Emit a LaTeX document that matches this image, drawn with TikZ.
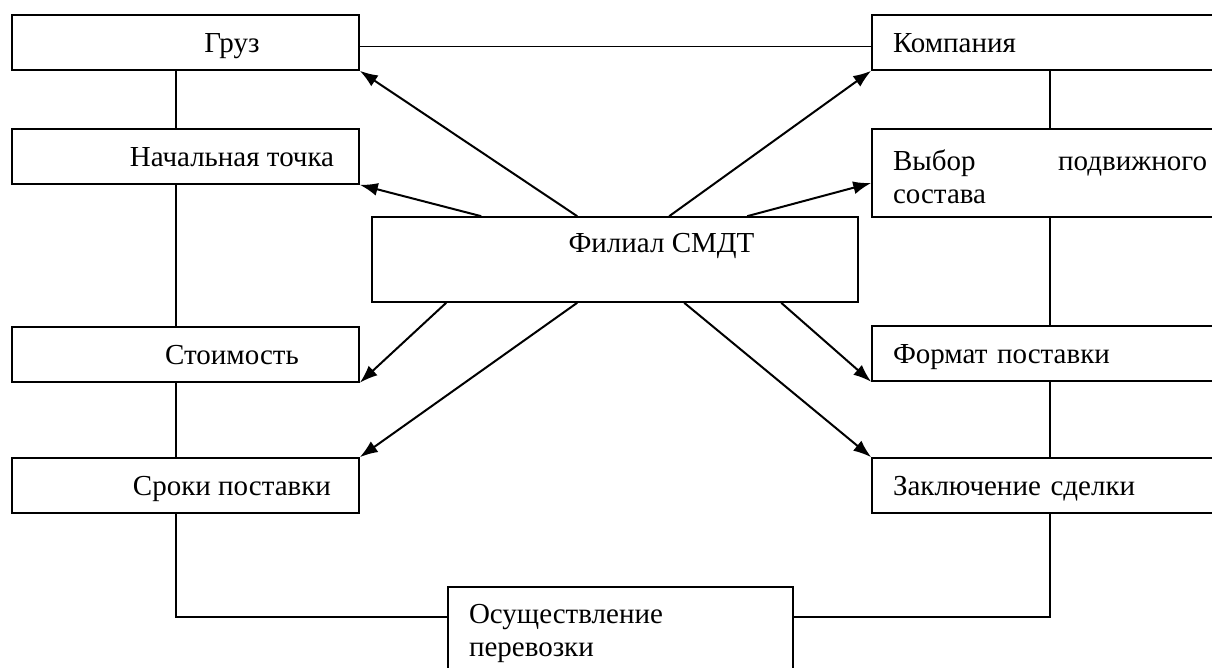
\documentclass[tikz,border=0pt]{standalone}
\usepackage{fontspec}
\setmainfont{Liberation Serif}
\usetikzlibrary{arrows.meta}
\newcommand\indt{\hspace*{46.5pt}}
\newcommand\lowstrut{\rule[-3.5pt]{0pt}{17.5pt}}

\begin{document}
\begin{tikzpicture}[x=0.5pt,y=-0.5pt,>={Latex[length=9pt,width=6.5pt]},font=\fontsize{14.5}{16.5}\selectfont]
\useasboundingbox (0,0) rectangle (1212,668);

\tikzstyle{box}=[draw, line width=0.8pt, rectangle, inner sep=0pt, minimum height=27.5pt]
\tikzstyle{lbox}=[box, minimum width=173.5pt, align=center, execute at begin node=\lowstrut]
\tikzstyle{rbox}=[box, minimum width=178pt, text width=157pt, align=left, execute at begin node=\lowstrut]
\tikzstyle{link}=[line width=0.8pt]
\tikzstyle{ray}=[line width=1pt,->]

%% LEFT
\node (gruz) [lbox] at (185.5,42.5) {\indt Груз};
\node (nach) [lbox] at (185.5,156.5) {\indt Начальная точка};
\node (stoim) [lbox] at (185.5,354.5) {\indt Стоимость};
\node (sroki) [lbox] at (185.5,485.5) {\indt Сроки поставки};

%% RIGHT
\node (komp) [rbox] at (1050,42.5) {Компания};
\node (vybor) [rbox, minimum height=44pt, execute at begin node={}] at (1050,173) {Выбор\hfill подвижного\\состава};
\node (format) [rbox] at (1050,353.5) {Формат поставки};
\node (zakl) [rbox] at (1050,485.5) {Заключение сделки};

%% CENTER
\node (hub) [box, minimum width=243pt, minimum height=42.5pt, align=center] at (615,259.5) {\indt Филиал СМДТ\\ \mbox{}};
\node (osush) [box, minimum width=172.5pt, text width=151.5pt, align=left, minimum height=46.5pt] at (620.5,633.5) {Осуществление\\перевозки};

\coordinate (lcol) at (176,0);
\coordinate (lrow) at (0,617);

%% links
\draw[link] ([yshift=-2pt]gruz.east) -- ([yshift=-2pt]komp.west);
\draw[link] (gruz.south -| lcol) -- (nach.north -| lcol);
\draw[link] (nach.south -| lcol) -- (stoim.north -| lcol);
\draw[link] (stoim.south -| lcol) -- (sroki.north -| lcol);
\draw[link] (sroki.south -| lcol) |- (osush.west |- lrow);
\draw[link] (komp.south) -- (vybor.north);
\draw[link] (vybor.south) -- (format.north);
\draw[link] (format.south) -- (zakl.north);
\draw[link] (zakl.south) |- (osush.east |- lrow);

%% arrows from hub
\draw[ray] ([xshift=103pt]hub.north west) -- (gruz.south east);
\draw[ray] ([xshift=55pt]hub.north west) -- (nach.south east);
\draw[ray] ([xshift=149pt]hub.north west) -- (komp.south west);
\draw[ray] ([xshift=188pt]hub.north west) -- ([yshift=-5pt]vybor.west);
\draw[ray] ([xshift=37.5pt]hub.south west) -- (stoim.south east);
\draw[ray] ([xshift=103pt]hub.south west) -- (sroki.north east);
\draw[ray] ([xshift=156.5pt]hub.south west) -- (zakl.north west);
\draw[ray] ([xshift=205pt]hub.south west) -- (format.south west);

\end{tikzpicture}
\end{document}
